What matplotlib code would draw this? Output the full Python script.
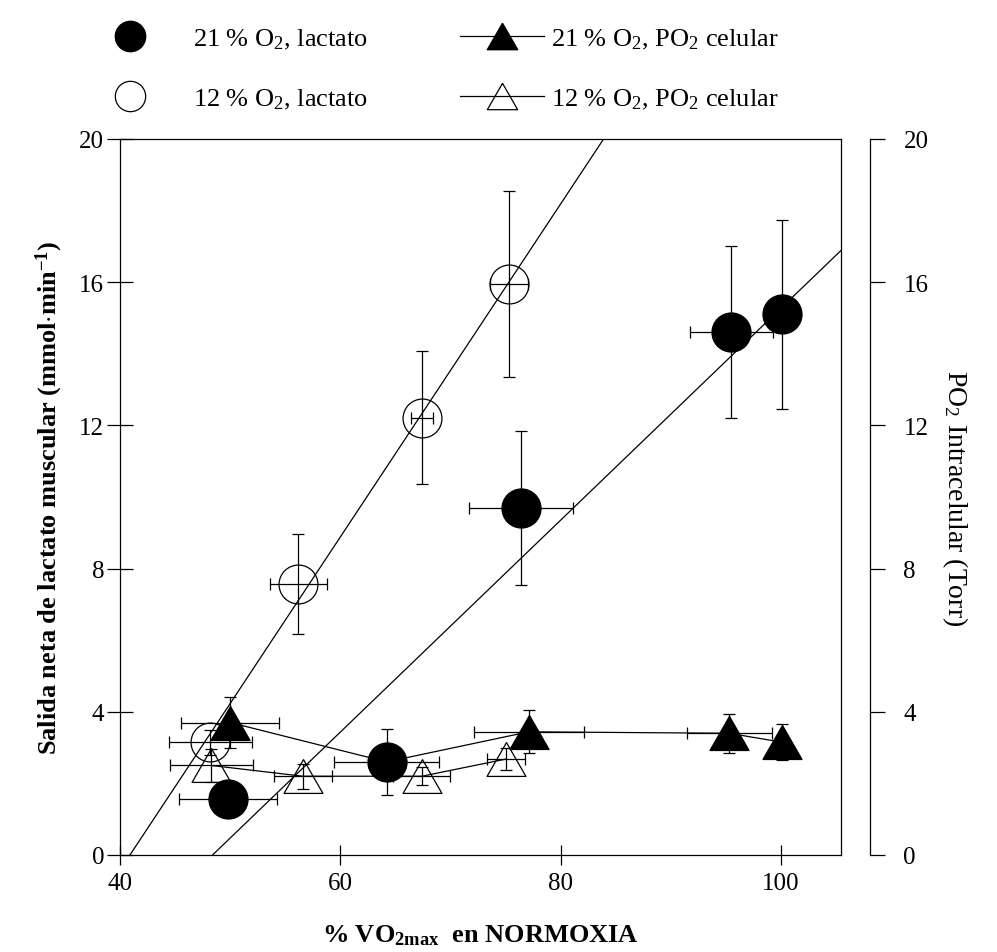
"""
Salida de lactato y PO2 intracelular frente a %VO2max en normoxia
"""

import numpy as np
import matplotlib
matplotlib.use("Agg")
import matplotlib.pyplot as plt
from matplotlib.lines import Line2D

# 21 % O2, lactato (circulos llenos)
lac21_x = [49.8, 64.2, 76.4, 95.5, 100.1]
lac21_y = [1.56, 2.6, 9.7, 14.6, 15.1]
lac21_xerr = [4.45, 4.8, 4.7, 3.8, 0.0]
lac21_yerr = [0.25, 0.93, 2.15, 2.4, 2.65]

# 12 % O2, lactato (circulos abiertos)
lac12_x = [48.2, 56.2, 67.4, 75.3]
lac12_y = [3.15, 7.57, 12.22, 15.95]
lac12_xerr = [3.8, 2.6, 1.0, 1.7]
lac12_yerr = [0.35, 1.4, 1.85, 2.6]

# 21 % O2, PO2 celular (triangulos llenos); el punto de 64 % queda tapado
po21_x = [50.0, 64.2, 77.1, 95.3, 100.1]
po21_y = [3.7, 2.6, 3.44, 3.4, 3.15]
po21_xerr = [4.45, 0.0, 5.0, 3.85, 0.0]
po21_yerr = [0.7, 0.0, 0.6, 0.55, 0.5]

# 12 % O2, PO2 celular (triangulos abiertos)
po12_x = [48.3, 56.6, 67.4, 75.05]
po12_y = [2.5, 2.2, 2.2, 2.68]
po12_xerr = [3.8, 2.65, 2.6, 1.7]
po12_yerr = [0.45, 0.35, 0.25, 0.3]

# rectas de regresion (extremos)
fit12_x = [40.9, 83.9]
fit12_y = [0.0, 20.0]
fit21_x = [48.4, 105.5]
fit21_y = [0.0, 16.9]

ticks = [0, 4, 8, 12, 16, 20]
xticks = [40, 60, 80, 100]

plt.rcParams['font.family'] = 'Liberation Serif'
plt.rcParams['mathtext.fontset'] = 'custom'
plt.rcParams['mathtext.rm'] = 'Liberation Serif'
plt.rcParams['mathtext.it'] = 'Liberation Serif:italic'
plt.rcParams['mathtext.bf'] = 'Liberation Serif:bold'

# triangulo algo mas ancho que alto
tri = [(0, 0.87), (-1, -0.87), (1, -0.87), (0, 0.87)]
ms = 28
fs_tick = 18
fs_lab = 19

fig = plt.figure(figsize=(9.97, 9.53), dpi=100)
ax = fig.add_axes([0.1204, 0.1018, 0.7231, 0.7513])

# regresiones
ax.plot(fit12_x, fit12_y, color='black', lw=0.9, zorder=1)
ax.plot(fit21_x, fit21_y, color='black', lw=0.9, zorder=1)

eb = dict(ecolor='black', elinewidth=0.9, capsize=4, capthick=0.9)

ax.errorbar(lac12_x, lac12_y, xerr=lac12_xerr, yerr=lac12_yerr, fmt='o', ms=ms,
            mfc='none', mec='black', mew=0.9, zorder=2, **eb)
ax.errorbar(po12_x, po12_y, xerr=po12_xerr, yerr=po12_yerr, fmt='-', marker=tri,
            ms=ms, color='black', lw=0.9, mfc='none', mec='black', mew=0.9,
            zorder=3, **eb)
ax.errorbar(po21_x, po21_y, xerr=po21_xerr, yerr=po21_yerr, fmt='-', marker=tri,
            markevery=[0, 2, 3, 4], ms=ms, color='black', lw=0.9, mfc='black',
            mec='black', zorder=3, **eb)
ax.errorbar(lac21_x, lac21_y, xerr=lac21_xerr, yerr=lac21_yerr, fmt='o', ms=ms,
            mfc='black', mec='black', zorder=4, **eb)

ax.set_xlim(40, 105.45)
ax.set_ylim(0, 20)
ax.set_xticks(xticks)
ax.set_yticks(ticks)
ax.tick_params(axis='y', direction='inout', length=19, width=0.9, labelsize=fs_tick, pad=2)
ax.tick_params(axis='x', direction='inout', length=15, width=0.9, labelsize=fs_tick, pad=5)
for s in ax.spines.values():
    s.set_linewidth(0.9)

ax.set_xlabel(r"% VO$_\mathbf{2max}$  en NORMOXIA", fontsize=fs_lab,
              fontweight='bold', labelpad=20)
ax.set_ylabel(r"Salida neta de lactato muscular (mmol$\cdot$min$^{\mathbf{-1}}$)",
              fontsize=fs_lab, fontweight='bold', labelpad=10)

# eje derecho desplazado
ax2 = ax.twinx()
ax2.set_ylim(0, 20)
ax2.set_yticks(ticks)
for side in ['left', 'top', 'bottom']:
    ax2.spines[side].set_visible(False)
ax2.spines['right'].set_position(('outward', 21))
ax2.spines['right'].set_linewidth(0.9)
ax2.tick_params(axis='y', direction='out', length=11, width=0.9, labelsize=fs_tick, pad=13)
ax2.set_ylabel(r"PO$_2$ Intracelular (Torr)", fontsize=20, rotation=270, labelpad=30)

# leyenda en dos columnas
h_lac21 = Line2D([], [], ls='none', marker='o', ms=ms, mfc='black', mec='black')
h_lac12 = Line2D([], [], ls='none', marker='o', ms=ms, mfc='none', mec='black', mew=0.9)
h_po21 = Line2D([], [], color='black', lw=0.9, marker=tri, ms=ms, mfc='black', mec='black')
h_po12 = Line2D([], [], color='black', lw=0.9, marker=tri, ms=ms, mfc='none', mec='black',
                mew=0.9)

leg_kw = dict(loc='upper left', frameon=False, fontsize=fs_lab, markerscale=0.78,
              borderpad=0, borderaxespad=0, labelspacing=1.35)
leg1 = fig.legend([h_lac21, h_lac12],
                  [r"21 % O$_2$, lactato", r"12 % O$_2$, lactato"],
                  bbox_to_anchor=(0.1065, 0.971), handlelength=1.8,
                  handletextpad=1.5, **leg_kw)
leg2 = fig.legend([h_po21, h_po12],
                  [r"21 % O$_2$, PO$_2$ celular", r"12 % O$_2$, PO$_2$ celular"],
                  bbox_to_anchor=(0.461, 0.971), handlelength=3.2,
                  handletextpad=0.27, **leg_kw)

fig.savefig("out.png", dpi=100)
